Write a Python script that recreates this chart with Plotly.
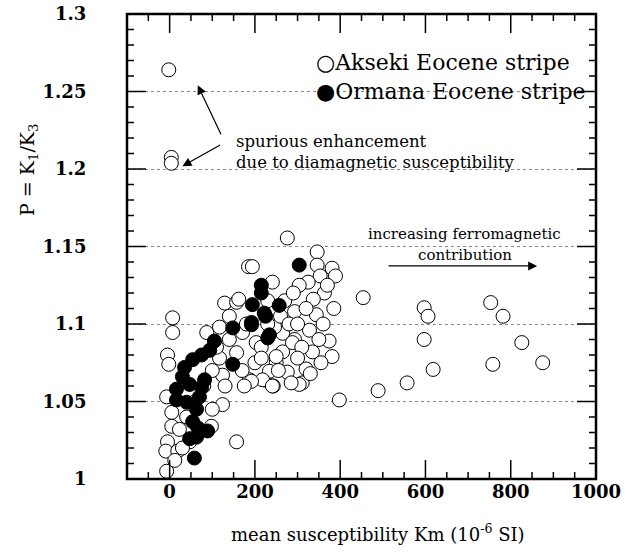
import plotly.graph_objects as go

# Akseki Eocene stripe (open circles): mean susceptibility, P
akseki_km = [-2, 4, 4,
             7, 7, -5, -2, -7, 5, 5, -5, -9, -7, 19, 23, 47, 12, 30,
             87, 117, 124, 124, 157, 98, 117, 171, 157, 187, 222, 243, 250, 129, 157, 140, 162, 185, 241, 194,
             346, 346, 381, 389, 353, 325, 304, 363, 337, 293, 344, 328, 374, 381, 335, 293, 265, 246, 203,
             265, 288, 250, 276, 320, 311, 304, 234, 218, 241, 192, 285, 276,
             398, 454, 597, 606, 597, 618, 557, 489, 753, 782, 826, 758, 875,
             100, 110, 140, 170, 200, 215, 230, 260, 280, 300, 310, 320, 350, 360, 270, 290, 230, 180, 130, 60, 80, 40, 100,
             370, 385, 355, 330, 300, 255, 215, 175]
akseki_p = [1.264, 1.2075, 1.2037,
            1.104, 1.0945, 1.080, 1.074, 1.053, 1.043, 1.034, 1.024, 1.018, 1.005, 1.018, 1.032, 1.024, 1.012, 1.020,
            1.0945, 1.078, 1.067, 1.048, 1.024, 1.034, 1.098, 1.0945, 1.0815, 1.064, 1.064, 1.060, 1.075, 1.1135, 1.114, 1.105, 1.116, 1.137, 1.127, 1.137,
            1.1465, 1.138, 1.136, 1.131, 1.131, 1.127, 1.125, 1.120, 1.116, 1.108, 1.106, 1.096, 1.089, 1.079, 1.082, 1.090, 1.094, 1.098, 1.088,
            1.082, 1.088, 1.079, 1.069, 1.071, 1.062, 1.061, 1.0695, 1.064, 1.060, 1.063, 1.062, 1.1555,
            1.051, 1.117, 1.1105, 1.105, 1.090, 1.0707, 1.062, 1.057, 1.1138, 1.105, 1.088, 1.074, 1.075,
            1.070, 1.085, 1.090, 1.070, 1.075, 1.085, 1.100, 1.105, 1.100, 1.100, 1.085, 1.110, 1.090, 1.100, 1.115, 1.120, 1.115, 1.100, 1.060, 1.050, 1.060, 1.040, 1.045,
            1.125, 1.110, 1.075, 1.068, 1.078, 1.070, 1.078, 1.060]

# Ormana Eocene stripe (filled circles)
ormana_km = [58, 63, 47, 66, 89, 54, 63, 40, 16, 16, 70, 75, 82, 47, 30, 35, 54, 75, 94, 105,
             148, 148, 192, 222, 234, 194, 215, 304, 215, 257, 225, 230, 192]
ormana_p = [1.0135, 1.027, 1.026, 1.033, 1.031, 1.037, 1.045, 1.0495, 1.051, 1.058, 1.053, 1.059, 1.064, 1.061, 1.066, 1.072, 1.077, 1.080, 1.083, 1.089,
            1.074, 1.0975, 1.101, 1.107, 1.093, 1.1125, 1.125, 1.138, 1.120, 1.112, 1.105, 1.091, 1.0995]

x_range = [-100, 1000]
y_range = [1, 1.3]
x_major_ticks = [0, 200, 400, 600, 800]
x_minor_ticks = [-50, 50, 100, 150, 250, 300, 350, 450, 500, 550, 650, 700, 750, 850, 900, 950]
y_major_ticks = [1.05, 1.1, 1.15, 1.2, 1.25]
y_minor_ticks = [1.01, 1.02, 1.03, 1.04, 1.06, 1.07, 1.08, 1.09, 1.11, 1.12, 1.13, 1.14,
                 1.16, 1.17, 1.18, 1.19, 1.21, 1.22, 1.23, 1.24, 1.26, 1.27, 1.28, 1.29]

SERIF = "DejaVu Serif"
PLOT_W, PLOT_H = 469, 465
MAJOR_LEN, MINOR_LEN = 19, 7

fig = go.Figure()
fig.add_trace(go.Scatter(
    x=akseki_km, y=akseki_p, mode="markers", name="Akseki Eocene stripe",
    marker=dict(symbol="circle", size=14, color="white", line=dict(color="black", width=1)),
    showlegend=False, cliponaxis=False))
fig.add_trace(go.Scatter(
    x=ormana_km, y=ormana_p, mode="markers", name="Ormana Eocene stripe",
    marker=dict(symbol="circle", size=14, color="black", line=dict(color="black", width=1)),
    showlegend=False, cliponaxis=False))

fig.update_layout(
    width=630, height=555,
    margin=dict(l=127, r=34, t=14, b=76),
    paper_bgcolor="white", plot_bgcolor="white",
    font=dict(family=SERIF, color="black"),
    xaxis=dict(
        range=x_range, tickmode="linear", tick0=0, dtick=200,
        showgrid=False, zeroline=False, automargin=False, showline=False, ticks="",
        tickfont=dict(family=SERIF, size=18, weight="bold"),
    ),
    yaxis=dict(
        range=y_range, tickmode="linear", tick0=1, dtick=0.05,
        ticksuffix="\u2003\u2003\u2009",
        showgrid=True, gridcolor="#888888", griddash="dot", gridwidth=1,
        zeroline=False, automargin=False, showline=False, ticks="",
        tickfont=dict(family=SERIF, size=18, weight="bold"),
    ),
)

# frame and tick marks (positioned through the axis scales)
shapes = [dict(type="rect", xref="paper", yref="paper", x0=0, x1=1, y0=0, y1=1,
               line=dict(color="black", width=2.5), layer="above")]
for vals, length in ((x_major_ticks, MAJOR_LEN), (x_minor_ticks, MINOR_LEN)):
    for v in vals:
        f = length / PLOT_H
        shapes.append(dict(type="line", xref="x", yref="paper", x0=v, x1=v, y0=0, y1=f,
                           line=dict(color="black", width=1.5), layer="above"))
        shapes.append(dict(type="line", xref="x", yref="paper", x0=v, x1=v, y0=1 - f, y1=1,
                           line=dict(color="black", width=1.5), layer="above"))
for vals, length in ((y_major_ticks, MAJOR_LEN), (y_minor_ticks, MINOR_LEN)):
    for v in vals:
        f = length / PLOT_W
        shapes.append(dict(type="line", xref="paper", yref="y", x0=0, x1=f, y0=v, y1=v,
                           line=dict(color="black", width=1.5), layer="above"))
        shapes.append(dict(type="line", xref="paper", yref="y", x0=1 - f, x1=1, y0=v, y1=v,
                           line=dict(color="black", width=1.5), layer="above"))
fig.update_layout(shapes=shapes)

annotations = [
    dict(text="P = K<sub>1</sub>/K<sub>3</sub>", xref="paper", yref="paper",
         x=(29 - 127) / PLOT_W, y=(479 - 170) / PLOT_H, xanchor="center", yanchor="middle",
         textangle=-90, showarrow=False, font=dict(size=19, family=SERIF)),
    dict(text="mean susceptibility Km (10<sup>-6</sup> SI)", xref="paper", yref="paper",
         x=(378 - 127) / PLOT_W, y=-(533 - 479) / PLOT_H, showarrow=False, xanchor="center", yanchor="middle",
         font=dict(size=18, family=SERIF)),
    dict(text="○Akseki Eocene stripe", xref="paper", yref="paper",
         x=(314 - 127) / PLOT_W, y=(479 - 62) / PLOT_H, xanchor="left", yanchor="middle", showarrow=False,
         font=dict(size=22, family=SERIF)),
    dict(text="●Ormana Eocene stripe", xref="paper", yref="paper",
         x=(314 - 127) / PLOT_W, y=(479 - 92) / PLOT_H, xanchor="left", yanchor="middle", showarrow=False,
         font=dict(size=22, family=SERIF)),
    dict(text="spurious enhancement", xref="x", yref="y",
         x=152, y=1.2175, xanchor="left", yanchor="middle", showarrow=False,
         font=dict(size=16.5, family=SERIF)),
    dict(text="due to diamagnetic susceptibility", xref="x", yref="y",
         x=152, y=1.2045, xanchor="left", yanchor="middle", showarrow=False,
         font=dict(size=16.5, family=SERIF)),
    dict(text="increasing ferromagnetic", xref="x", yref="y",
         x=692, y=1.158, xanchor="center", yanchor="middle", showarrow=False,
         font=dict(size=15, family=SERIF)),
    dict(text="contribution", xref="x", yref="y",
         x=692, y=1.1445, xanchor="center", yanchor="middle", showarrow=False,
         font=dict(size=15, family=SERIF)),
    # arrows
    dict(text="", xref="x", yref="y", axref="x", ayref="y",
         x=66, y=1.254, ax=122, ay=1.2215, showarrow=True, arrowhead=2, arrowsize=1.5,
         arrowwidth=1.2, arrowcolor="black"),
    dict(text="", xref="x", yref="y", axref="x", ayref="y",
         x=30, y=1.2018, ax=122, ay=1.216, showarrow=True, arrowhead=2, arrowsize=1.5,
         arrowwidth=1.2, arrowcolor="black"),
    dict(text="", xref="x", yref="y", axref="x", ayref="y",
         x=862, y=1.1375, ax=510, ay=1.1375, showarrow=True, arrowhead=2, arrowsize=1.5,
         arrowwidth=1.2, arrowcolor="black"),
]
fig.update_layout(annotations=annotations)

fig.write_html("out.html")
